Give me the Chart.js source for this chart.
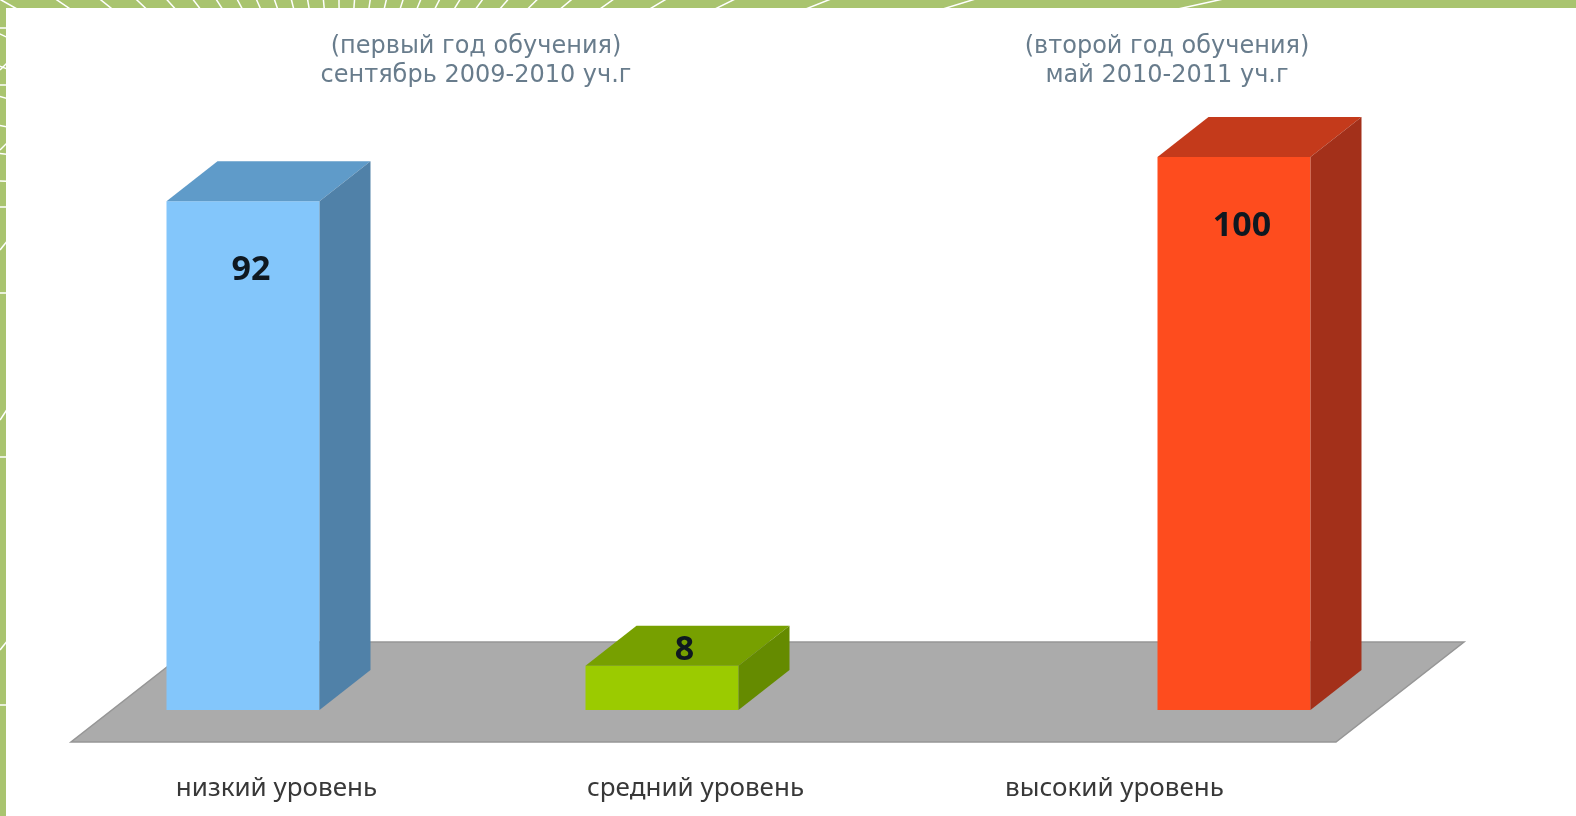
<!DOCTYPE html>
<html>
<head>
<meta charset="utf-8">
<script src="https://cdn.jsdelivr.net/npm/chart.js@4.4.0/dist/chart.umd.min.js"></script>
<style>
  html, body { margin: 0; padding: 0; background: #fff; }
  #wrap { width: 1576px; height: 816px; }
</style>
</head>
<body>
<div id="wrap"><canvas id="chart" width="1576" height="816"></canvas></div>
<script>
// categories (bottom labels)
const levels = ['низкий уровень', 'средний уровень', 'высокий уровень'];

// series names (shown as captions above the chart)
const firstYearName = ['(первый год обучения)', 'сентябрь 2009-2010 уч.г'];
const secondYearName = ['(второй год обучения)', 'май 2010-2011 уч.г'];

// series values, % of pupils
const firstYear = [92, 8, null];
const secondYear = [null, null, 100];

// per-level colours: front, top, side
const frontColors = ['#83c6fb', '#9bcb00', '#fe4c1e'];
const topColors = ['#5f9bc9', '#77a000', '#c43a1b'];
const sideColors = ['#5081a8', '#658b00', '#a3301a'];

const DEPTH_X = 51;
const DEPTH_Y = -40;

const backdrop = {
  id: 'backdrop',
  beforeDraw(chart) {
    const ctx = chart.ctx;
    const W = chart.width, H = chart.height;
    ctx.save();
    ctx.fillStyle = '#a9c46f';
    ctx.fillRect(0, 0, W, H);
    // rays of the slide texture (upper half only)
    ctx.strokeStyle = '#ffffff';
    ctx.lineWidth = 1.5;
    const cx = 341, cy = 193;
    for (let a = 182; a < 360; a += 4.6) {
      const r = (a * Math.PI) / 180;
      ctx.beginPath();
      ctx.moveTo(cx, cy);
      ctx.lineTo(cx + Math.cos(r) * 3000, cy + Math.sin(r) * 3000);
      ctx.stroke();
    }
    [28, 85, 207, 293, 457, 705].forEach(y => {
      ctx.beginPath();
      ctx.moveTo(0, y);
      ctx.lineTo(8, y);
      ctx.stroke();
    });
    [[70, 62], [150, 142], [250, 240], [420, 408], [650, 640]].forEach(([y1, y2]) => {
      ctx.beginPath();
      ctx.moveTo(0, y1);
      ctx.lineTo(8, y2);
      ctx.stroke();
    });
    ctx.fillStyle = '#ffffff';
    ctx.fillRect(6, 8, W - 6, H - 8);
    ctx.restore();
  },
};

const floor = {
  id: 'floor',
  beforeDatasetsDraw(chart) {
    const { left, right, bottom } = chart.chartArea;
    const ctx = chart.ctx;
    ctx.save();
    ctx.fillStyle = '#ababab';
    ctx.strokeStyle = '#969696';
    ctx.lineWidth = 1.5;
    ctx.beginPath();
    ctx.moveTo(left - 39, bottom + 32);
    ctx.lineTo(right - 31, bottom + 32);
    ctx.lineTo(right + 97, bottom - 68);
    ctx.lineTo(left + 89, bottom - 68);
    ctx.closePath();
    ctx.fill();
    ctx.stroke();
    ctx.restore();
  },
};

const boxes = {
  id: 'boxes',
  afterDatasetsDraw(chart) {
    const ctx = chart.ctx;
    ctx.save();
    chart.data.datasets.forEach((ds, di) => {
      const meta = chart.getDatasetMeta(di);
      meta.data.forEach((bar, i) => {
        const v = ds.data[i];
        if (v == null) return;
        const { x, y, base, width } = bar.getProps(['x', 'y', 'base', 'width'], true);
        const l = x - width / 2, r = x + width / 2;
        // top face
        ctx.fillStyle = topColors[i];
        ctx.beginPath();
        ctx.moveTo(l, y);
        ctx.lineTo(r, y);
        ctx.lineTo(r + DEPTH_X, y + DEPTH_Y);
        ctx.lineTo(l + DEPTH_X, y + DEPTH_Y);
        ctx.closePath();
        ctx.fill();
        // side face
        ctx.fillStyle = sideColors[i];
        ctx.beginPath();
        ctx.moveTo(r, y);
        ctx.lineTo(r + DEPTH_X, y + DEPTH_Y);
        ctx.lineTo(r + DEPTH_X, base + DEPTH_Y);
        ctx.lineTo(r, base);
        ctx.closePath();
        ctx.fill();
        // value label
        ctx.fillStyle = '#0f1820';
        ctx.font = 'bold 34px "Noto Sans"';
        ctx.textAlign = 'center';
        ctx.textBaseline = 'middle';
        if (base - y > 80) {
          ctx.fillText(String(v), x + 8, y + 69);
        } else {
          ctx.fillText(String(v), x + DEPTH_X / 2 - 3, y + DEPTH_Y / 2 + 5);
        }
      });
    });
    ctx.restore();
  },
};

const captions = {
  id: 'captions',
  afterDraw(chart) {
    const ctx = chart.ctx;
    ctx.save();
    ctx.fillStyle = '#687c8c';
    ctx.font = '24px "DejaVu Sans"';
    ctx.textAlign = 'center';
    ctx.textBaseline = 'middle';
    firstYearName.forEach((t, k) => ctx.fillText(t, 476, 47 + k * 29));
    secondYearName.forEach((t, k) => ctx.fillText(t, 1167, 47 + k * 29));
    ctx.restore();
  },
};

new Chart(document.getElementById('chart'), {
  type: 'bar',
  data: {
    labels: levels,
    datasets: [
      { label: firstYearName.join(' '), data: firstYear, backgroundColor: frontColors },
      { label: secondYearName.join(' '), data: secondYear, backgroundColor: frontColors },
    ],
  },
  options: {
    responsive: false,
    animation: false,
    categoryPercentage: 0.7303,
    barPercentage: 1,
    layout: { padding: { left: 110, right: 209, top: 157, bottom: 0 } },
    plugins: {
      legend: { display: false },
      tooltip: { enabled: false },
    },
    scales: {
      x: {
        grid: { display: false, drawTicks: false },
        border: { display: false },
        afterFit(scale) { scale.height = 106; },
        ticks: {
          labelOffset: -43,
          padding: 63,
          color: '#383838',
          font: { family: 'Noto Sans', size: 26 },
        },
      },
      y: { display: false, min: 0, max: 100 },
    },
  },
  plugins: [backdrop, floor, boxes, captions],
});
</script>
</body>
</html>
